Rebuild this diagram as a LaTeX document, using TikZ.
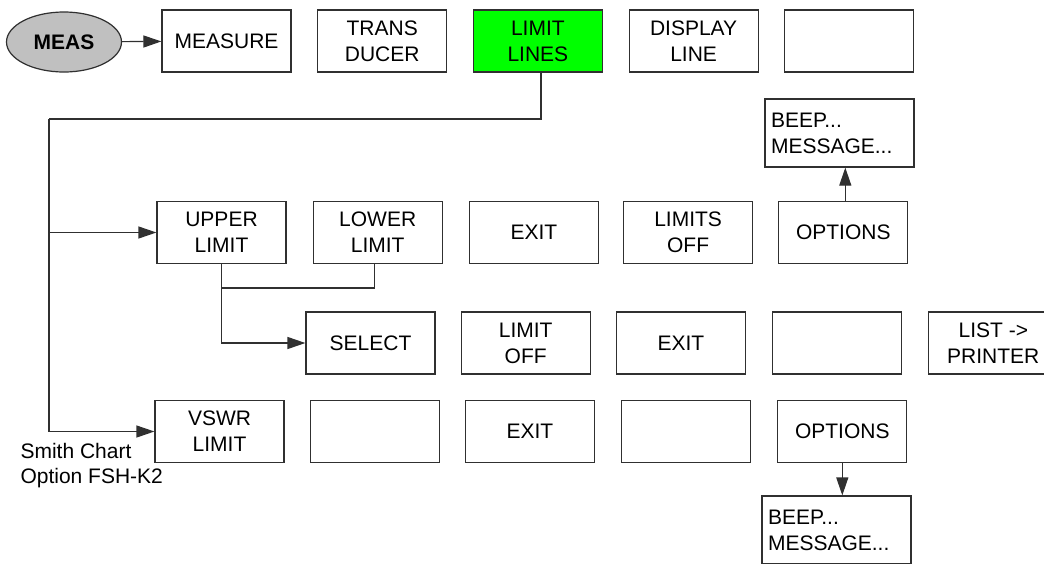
\documentclass[tikz,border=0pt]{standalone}
\usepackage{fontspec}
\setmainfont{Liberation Sans}
\usepackage{tikz}
\usetikzlibrary{positioning,arrows.meta,shapes.geometric,calc}
\definecolor{fshline}{HTML}{303030}
\definecolor{fshgreen}{HTML}{00FF00}
\definecolor{fshgrey}{HTML}{C0C0C0}

\begin{document}
\begin{tikzpicture}[x=1pt,y=-1pt,
  key/.style={draw=fshline,line width=1.2pt,fill=white,minimum width=129pt,minimum height=62pt,inner sep=0pt,font=\fontsize{21}{26}\selectfont,align=center},
  note/.style={draw=fshline,line width=1.2pt,fill=white,minimum width=149pt,minimum height=68pt,inner sep=6pt,font=\fontsize{21}{26}\selectfont,align=left,text width=137pt},
  hard/.style={draw=fshline,line width=1.2pt,fill=fshgrey,ellipse,minimum width=115pt,minimum height=60pt,inner sep=0pt,font=\fontsize{21}{26}\selectfont\bfseries},
  arr/.style={-{Triangle[length=18pt,width=12pt]},fshline,line width=1.2pt},
  ln/.style={fshline,line width=1.2pt}
]
\useasboundingbox (0,0) rectangle (1044,563);

% top row
\node[hard] (meas) at (64,42) {MEAS};
\node[key] (measure) at (226.5,41) {MEASURE};
\node[key,right=25.5pt of measure] (trans) {TRANS\\DUCER};
\node[key,right=25.5pt of trans,fill=fshgreen] (limlines) {LIMIT\\LINES};
\node[key,right=25.5pt of limlines] (dline) {DISPLAY\\LINE};
\node[key,right=25.5pt of dline] (blank1) {};

% limit lines menu
\node[key] (upper) at (221.5,232.5) {UPPER\\LIMIT};
\node[key,right=26pt of upper] (lower) {LOWER\\LIMIT};
\node[key,right=26pt of lower] (exit1) {EXIT};
\node[key,right=24pt of exit1] (limoff) {LIMITS\\OFF};
\node[key,right=25pt of limoff] (opt1) {OPTIONS};
\node[note] (beep1) at (839.5,133) {BEEP...\\MESSAGE...};

% select menu
\node[key] (select) at (370.5,343) {SELECT};
\node[key,right=25pt of select] (loff) {LIMIT\\OFF};
\node[key,right=25pt of loff] (exit2) {EXIT};
\node[key,right=26pt of exit2] (blank2) {};
\node[key,right=26pt of blank2] (list) {LIST ->\\PRINTER};

% vswr menu
\node[key] (vswr) at (219.5,431.5) {VSWR\\LIMIT};
\node[key,right=25pt of vswr] (blank3) {};
\node[key,right=25pt of blank3] (exit3) {EXIT};
\node[key,right=26pt of exit3] (blank4) {};
\node[key,right=26pt of blank4] (opt2) {OPTIONS};
\node[note] (beep2) at (836.5,530) {BEEP...\\MESSAGE...};
\node[anchor=west,align=left,font=\fontsize{21}{25}\selectfont] (smith) at (17,466) {Smith Chart\\Option FSH-K2};

\coordinate (bus) at (49,119);
\coordinate (mid) at (221,288);

\draw[arr] (meas) -- (measure);
\draw[ln] ([xshift=3pt]limlines.south) |- (bus);
\draw[arr] (bus) |- (vswr.west);
\draw[arr] (bus |- upper.west) -- (upper.west);
\draw[ln] ([xshift=-3pt]lower.south) |- (mid);
\draw[arr] (upper.south) |- (select.west);
\draw[arr] ([xshift=2pt]opt1.north) -- ([xshift=2pt]opt1.north |- beep1.south);
\draw[arr] (opt2.south) -- (opt2.south |- beep2.north);
\end{tikzpicture}
\end{document}
